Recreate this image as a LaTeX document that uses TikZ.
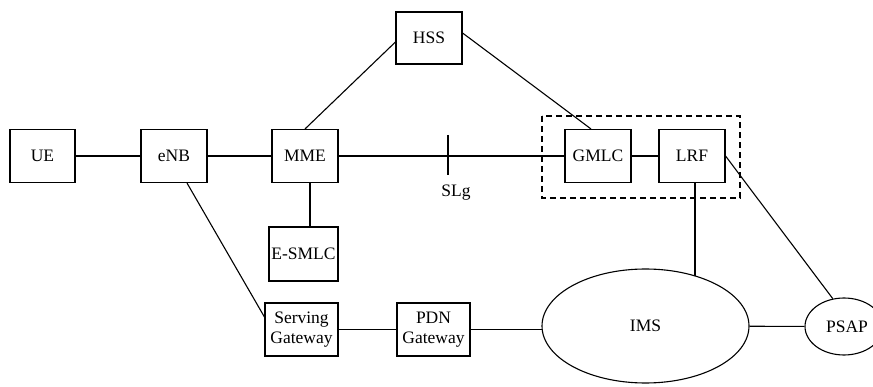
\documentclass[tikz,border=0pt]{standalone}
\usepackage{fontspec}
\setmainfont{Liberation Serif}
\usetikzlibrary{shapes.geometric,backgrounds}
\begin{document}
\begin{tikzpicture}[x=1pt,y=-1pt,
  font=\fontsize{17.5}{20}\selectfont,
  every path/.style={line width=1.1pt},
  entity/.style={draw,fill=white,rectangle,inner sep=0pt,align=center},
  cloud/.style={draw,fill=white,ellipse,inner sep=0pt},
  link/.style={draw,line width=1.1pt},
  groupbox/.style={draw,line width=2pt,dash pattern=on 6pt off 4pt}]
\useasboundingbox (0,0) rectangle (873,387);
\node[entity,minimum width=65pt,minimum height=53pt] (UE) at (42.5,156) {UE};
\node[entity,minimum width=66pt,minimum height=53pt] (eNB) at (174,156) {eNB};
\node[entity,minimum width=66pt,minimum height=53pt] (MME) at (305,156) {MME};
\node[entity,minimum width=66pt,minimum height=52pt] (HSS) at (429,38) {HSS};
\node[entity,minimum width=66pt,minimum height=53pt] (GMLC) at (598,156) {GMLC};
\node[entity,minimum width=66pt,minimum height=53pt] (LRF) at (692,156) {LRF};
\node[entity,minimum width=69pt,minimum height=54pt] (ESMLC) at (303.5,254) {E-SMLC};
\node[entity,minimum width=73pt,minimum height=53pt] (SGW) at (301.5,329.5) {Serving\\Gateway};
\node[entity,minimum width=73pt,minimum height=53pt] (PDN) at (433.5,329.5) {PDN\\Gateway};
\node[cloud,minimum width=207pt,minimum height=114pt] (IMS) at (645.5,326) {IMS};
\node[cloud,minimum width=78pt,minimum height=57pt] (PSAP) at (844,326.5) {\hspace*{6pt}PSAP};
\coordinate (SLg) at (448,156);
\node (SLgLabel) at (456,193) {SLg};
\begin{scope}[on background layer]
  \draw[link] (UE) -- (eNB);
  \draw[link] (eNB) -- (MME);
  \draw[link] (MME) -- (SLg) -- (GMLC);
  \draw[link] (GMLC) -- (LRF);
  \draw[link] (MME.north) -- ([yshift=-4pt]HSS.west);
  \draw[link] ([yshift=5pt]HSS.east) -- ([xshift=-7pt]GMLC.north);
  \draw[link] ([xshift=5pt]MME.south) -- ([xshift=5pt]MME.south |- ESMLC.north);
  \draw[link] ([xshift=13pt]eNB.south) -- ([yshift=12.5pt]SGW.west);
  \draw[link] (SGW) -- (PDN);
  \draw[link] (PDN.east) -- (PDN.east -| IMS.center);
  \draw[link] ([xshift=3pt]LRF.south) -- ([xshift=3pt]LRF.south |- IMS.center);
  \draw[link] (IMS) -- (PSAP);
  \draw[link] (LRF.east) -- (PSAP.112);
\end{scope}
\draw[link] ([yshift=21pt]SLg) -- ([yshift=-19pt]SLg);
\draw[groupbox] (542,116) rectangle (740,198);
\end{tikzpicture}
\end{document}
